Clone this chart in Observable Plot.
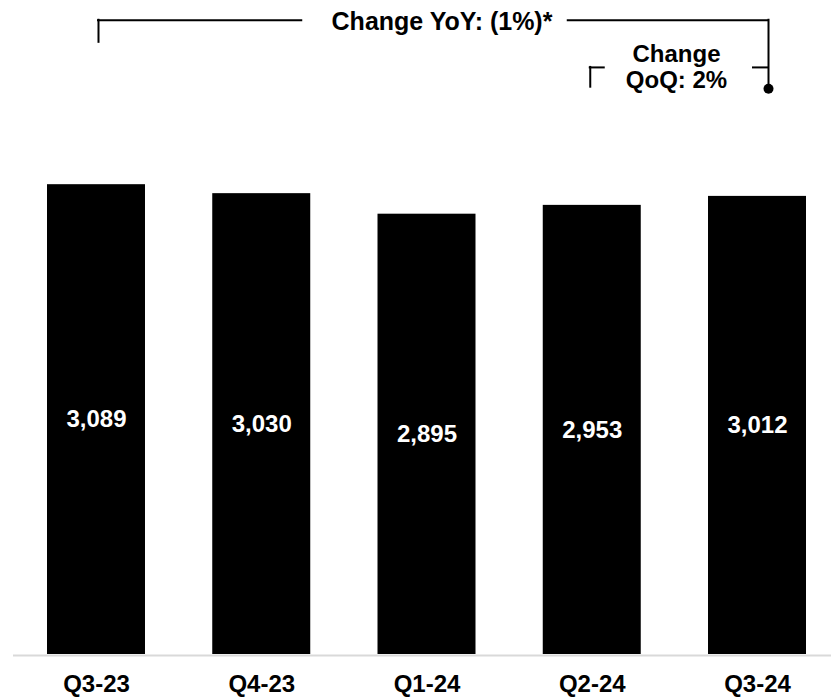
<!DOCTYPE html>
<html>
<head>
<meta charset="utf-8">
<script src="https://cdn.jsdelivr.net/npm/d3@7"></script>
<script src="https://cdn.jsdelivr.net/npm/@observablehq/plot@0.6"></script>
<style>
  html, body { margin: 0; padding: 0; background: #fff; }
  #chart { width: 831px; height: 697px; }
</style>
</head>
<body>
<div id="chart"></div>
<script>
// ---- data ----
const quarters = ["Q3-23", "Q4-23", "Q1-24", "Q2-24", "Q3-24"];
const values = [3089, 3030, 2895, 2953, 3012];

// annotation content
const yoyLabel = "Change YoY: (1%)*";
const qoqLabel = "Change\nQoQ: 2%";
const yoyFrom = "Q3-23", yoyTo = "Q3-24";
const qoqFrom = "Q2-24", qoqTo = "Q3-24";

// ---- table ----
const table = quarters.map((q, i) => ({quarter: q, value: values[i]}));

// annotation levels (in value units of the y scale)
const yoyLevel = 4170, yoyLeftEnd = 4025, yoyRightEnd = 3720;
const qoqLevel = 3860, qoqEnd = 3730;
const yoyTextLevel = 4160, qoqTextLevel = 3863;

const font = "'Liberation Sans', Arial, Helvetica, sans-serif";
const stroke = "#000";
const sw = 2;
const c = v => () => v; // constant accessor

const chart = Plot.plot({
  width: 831,
  height: 697,
  marginLeft: 47,
  marginRight: 25,
  marginTop: 0,
  marginBottom: 43,
  style: {fontFamily: font, fontSize: "24px", fontWeight: "bold", color: "#000", background: "#fff"},
  x: {domain: quarters, paddingInner: 0.407, paddingOuter: 0, round: false, label: null},
  y: {domain: [0, 4300], axis: null},
  marks: [
    Plot.barY(table, {x: "quarter", y: "value", fill: "#000"}),
    Plot.ruleY([0], {stroke: "#d9d9d9", strokeWidth: 2, insetLeft: -34, insetRight: -25, dy: 1}),
    Plot.text(table, {
      x: "quarter", y: d => d.value / 2, text: d => d3.format(",")(d.value),
      fill: "#fff", fontSize: 24, fontWeight: "bold", textAnchor: "middle", lineAnchor: "middle"
    }),
    Plot.axisX({tickSize: 0, tickPadding: 20, fontSize: 24, fontWeight: "bold", fill: "#000", label: null}),

    // YoY bracket
    Plot.ruleY([yoyLevel], {x1: c(yoyFrom), x2: c("Q4-23"), insetLeft: 51, insetRight: 9, stroke, strokeWidth: sw, strokeLinecap: "square"}),
    Plot.ruleY([yoyLevel], {x1: c("Q2-24"), x2: c(yoyTo), insetLeft: 25, insetRight: 38, stroke, strokeWidth: sw, strokeLinecap: "square"}),
    Plot.ruleX([yoyFrom], {y1: yoyLeftEnd, y2: yoyLevel, dx: 2, stroke, strokeWidth: sw, strokeLinecap: "square"}),
    Plot.ruleX([yoyTo], {y1: yoyRightEnd, y2: yoyLevel, dx: 11, stroke, strokeWidth: sw, strokeLinecap: "square"}),
    Plot.dot([yoyTo], {x: d => d, y: yoyRightEnd, dx: 11, r: 5, fill: "#000"}),
    Plot.text([yoyLabel], {x: c("Q1-24"), y: yoyTextLevel, text: d => d, dx: 15, fontSize: 25, fontWeight: "bold", fill: "#000", lineAnchor: "middle"}),

    // QoQ bracket
    Plot.ruleY([qoqLevel], {x1: c(qoqFrom), x2: c(qoqFrom), insetLeft: 47, insetRight: 37, stroke, strokeWidth: sw, strokeLinecap: "square"}),
    Plot.ruleY([qoqLevel], {x1: c(qoqTo), x2: c(qoqTo), insetLeft: 45, insetRight: 38, stroke, strokeWidth: sw, strokeLinecap: "square"}),
    Plot.ruleX([qoqFrom], {y1: qoqEnd, y2: qoqLevel, dx: -2, stroke, strokeWidth: sw, strokeLinecap: "square"}),
    Plot.text([qoqLabel], {x: c(qoqTo), y: qoqTextLevel, text: d => d, dx: -81, fontSize: 24, fontWeight: "bold", fill: "#000", lineAnchor: "middle", lineHeight: 1.083})
  ]
});
document.getElementById("chart").appendChild(chart);
</script>
</body>
</html>
